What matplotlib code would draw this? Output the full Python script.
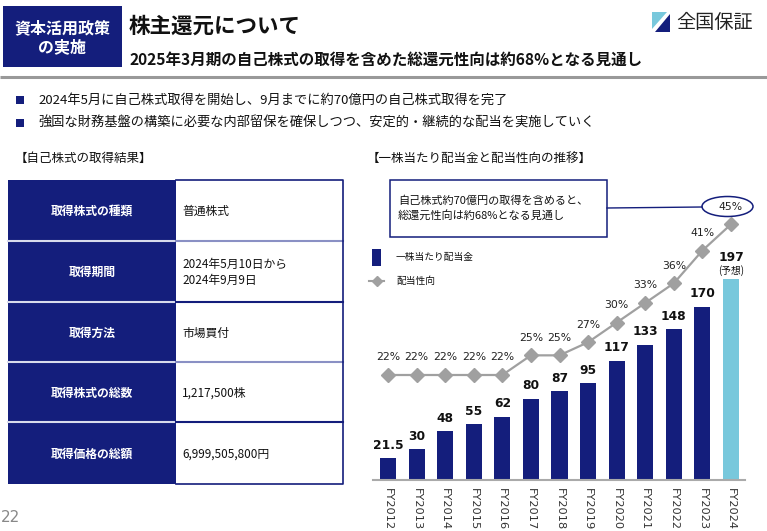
import matplotlib
matplotlib.use("Agg")
import matplotlib.pyplot as plt
from matplotlib.patches import Rectangle, Ellipse, Polygon
from matplotlib.lines import Line2D

plt.rcParams['font.family'] = ['Noto Sans CJK JP', 'DejaVu Sans']

# data
years = ['FY2012', 'FY2013', 'FY2014', 'FY2015', 'FY2016', 'FY2017', 'FY2018',
         'FY2019', 'FY2020', 'FY2021', 'FY2022', 'FY2023', 'FY2024']
dividends = [21.5, 30, 48, 55, 62, 80, 87, 95, 117, 133, 148, 170, 197]
payout = [22, 22, 22, 22, 22, 25, 25, 27, 30, 33, 36, 41, 45]
forecast_label = '(予想)'

table_labels = ['取得株式の種類', '取得期間', '取得方法', '取得株式の総数', '取得価格の総額']
table_values = ['普通株式', '2024年5月10日から\n2024年9月9日', '市場買付', '1,217,500株', '6,999,505,800円']

bullets = ['2024年5月に自己株式取得を開始し、9月までに約70億円の自己株式取得を完了',
           '強固な財務基盤の構築に必要な内部留保を確保しつつ、安定的・継続的な配当を実施していく']

NAVY = '#141e7c'
LIGHT = '#78c8dc'
GRAY = '#a0a0a0'
TXT = '#111111'

fig = plt.figure(figsize=(7.67, 5.31), dpi=100)
ov = fig.add_axes([0, 0, 1, 1])
ov.set_xlim(0, 767)
ov.set_ylim(531, 0)
ov.axis('off')

# header
ov.add_patch(Rectangle((3, 6), 119, 61, facecolor=NAVY, edgecolor='none'))
ov.text(62, 28, '資本活用政策', color='white', fontsize=11.5, fontweight='bold', ha='center', va='center')
ov.text(62, 47, 'の実施', color='white', fontsize=11.5, fontweight='bold', ha='center', va='center')
ov.text(129, 26, '株主還元について', color=TXT, fontsize=15.5, fontweight='bold', ha='left', va='center')
ov.text(129, 60, '2025年3月期の自己株式の取得を含めた総還元性向は約68%となる見通し',
        color=TXT, fontsize=11.2, fontweight='bold', ha='left', va='center')
ov.plot([0, 767], [77, 77], color='#999999', lw=2.2, solid_capstyle='butt')

# logo
ov.add_patch(Polygon([(652, 12), (667, 12), (652, 29)], closed=True, facecolor=LIGHT, edgecolor='none'))
ov.add_patch(Polygon([(670, 14), (670, 32), (655, 32)], closed=True, facecolor=NAVY, edgecolor='none'))
ov.text(676, 22, '全国保証', color='#222222', fontsize=13.8, ha='left', va='center')

# bullets
for i, b in enumerate(bullets):
    y = 100 + i * 23
    ov.add_patch(Rectangle((15.5, y - 4), 8, 8, facecolor=NAVY, edgecolor='none'))
    ov.text(38, y, b, color=TXT, fontsize=9.5, ha='left', va='center')

# left table
ov.text(15, 158, '【自己株式の取得結果】', color=TXT, fontsize=9, ha='left', va='center')
tx0, tx1, tx2 = 8, 176, 343
row_y = [180, 241, 302, 362, 422, 484]
for i, (lab, val) in enumerate(zip(table_labels, table_values)):
    y0, y1 = row_y[i], row_y[i + 1]
    ov.add_patch(Rectangle((tx0, y0), tx1 - tx0, y1 - y0, facecolor=NAVY, edgecolor='none'))
    ov.add_patch(Rectangle((tx1, y0), tx2 - tx1, y1 - y0, facecolor='white', edgecolor='none'))
    yc = (y0 + y1) / 2
    ov.text((tx0 + tx1) / 2, yc + 1, lab, color='white', fontsize=8.5, fontweight='bold',
            ha='center', va='center')
    lines = val.split('\n')
    for k, ln in enumerate(lines):
        off = (k - (len(lines) - 1) / 2) * 16.5
        ov.text(tx1 + 6, yc + 1 + off, ln, color=TXT, fontsize=8.5, ha='left', va='center')
for i, y in enumerate(row_y[1:-1]):
    ov.plot([tx0, tx1], [y, y], color='#d8dbec', lw=1.5)
    ov.plot([tx1, tx2], [y, y], color='#8a90c4' if i % 2 == 0 else NAVY, lw=1.5)
ov.plot([tx1, tx2, tx2, tx1], [row_y[0], row_y[0], row_y[-1], row_y[-1]], color=NAVY, lw=1.2)

ov.text(1, 517, '22', color='#888888', fontsize=11, family='DejaVu Sans', ha='left', va='center')

# right section
ov.text(367, 158, '【一株当たり配当金と配当性向の推移】', color=TXT, fontsize=9, ha='left', va='center')
ov.add_patch(Rectangle((390, 180), 217, 57, facecolor='white', edgecolor=NAVY, lw=1.1))
ov.text(398, 201, '自己株式約70億円の取得を含めると、', color=TXT, fontsize=8, ha='left', va='center')
ov.text(398, 215, '総還元性向は約68%となる見通し', color=TXT, fontsize=8, ha='left', va='center')
ov.plot([607, 702], [208, 207], color=NAVY, lw=1)
ov.add_patch(Ellipse((727.5, 206.5), 51, 20, facecolor='white', edgecolor=NAVY, lw=1.1))

# legend
ov.add_patch(Rectangle((372, 249), 9, 17, facecolor=NAVY, edgecolor='none'))
ov.text(396, 257, '一株当たり配当金', color=TXT, fontsize=7, ha='left', va='center')
ov.add_line(Line2D([369, 384], [281, 281], color=GRAY, lw=1.5))
ov.add_line(Line2D([376.5], [281], marker='D', markersize=5, color=GRAY, lw=0))
ov.text(396, 281, '配当性向', color=TXT, fontsize=7, ha='left', va='center')

# chart
ax = fig.add_axes([373 / 767, 51 / 531, 372 / 767, 310 / 531])
ax.patch.set_alpha(0)
x = list(range(len(years)))
colors = [NAVY] * (len(years) - 1) + [LIGHT]
ax.bar(x, dividends, width=0.56, color=colors, zorder=2)
ax.set_xlim(-0.525, 12.49)
ax.set_ylim(0, 310 / 1.018)
ax.set_xticks(x)
ax.set_xticklabels(years, rotation=-90, fontsize=8.2, color='#333333', family='DejaVu Sans')
ax.tick_params(axis='x', length=0, pad=6)
ax.set_yticks([])
for s in ['top', 'right', 'left']:
    ax.spines[s].set_visible(False)
ax.spines['bottom'].set_color('#aaaaaa')
ax.spines['bottom'].set_linewidth(1.5)

for i, v in enumerate(dividends):
    if i == len(dividends) - 1:
        ax.annotate(f'{v:g}', (i, v), xytext=(0, 22), textcoords='offset pixels', ha='center',
                    va='center', fontsize=8.8, fontweight='bold', family='DejaVu Sans', color=TXT)
        ax.annotate(forecast_label, (i, v), xytext=(0, 8.5), textcoords='offset pixels',
                    ha='center', va='center', fontsize=7, color=TXT)
    else:
        ax.annotate(f'{v:g}', (i, v), xytext=(0, 13), textcoords='offset pixels', ha='center',
                    va='center', fontsize=8.8, fontweight='bold', family='DejaVu Sans', color=TXT)

ax2 = ax.twinx()
ax2.set_ylim(22 - 105 / 6.552, 22 + 205 / 6.552)
ax2.axis('off')
ax2.plot(x, payout, color=GRAY, lw=1.6, marker='D', markersize=7.5, zorder=3)
for i, p in enumerate(payout):
    ax2.annotate(f'{p}%', (i, p), xytext=(0, 17.5), textcoords='offset pixels', ha='center',
                 va='center', fontsize=7.8, family='DejaVu Sans', color='#222222')

fig.savefig('out.png', dpi=100)
